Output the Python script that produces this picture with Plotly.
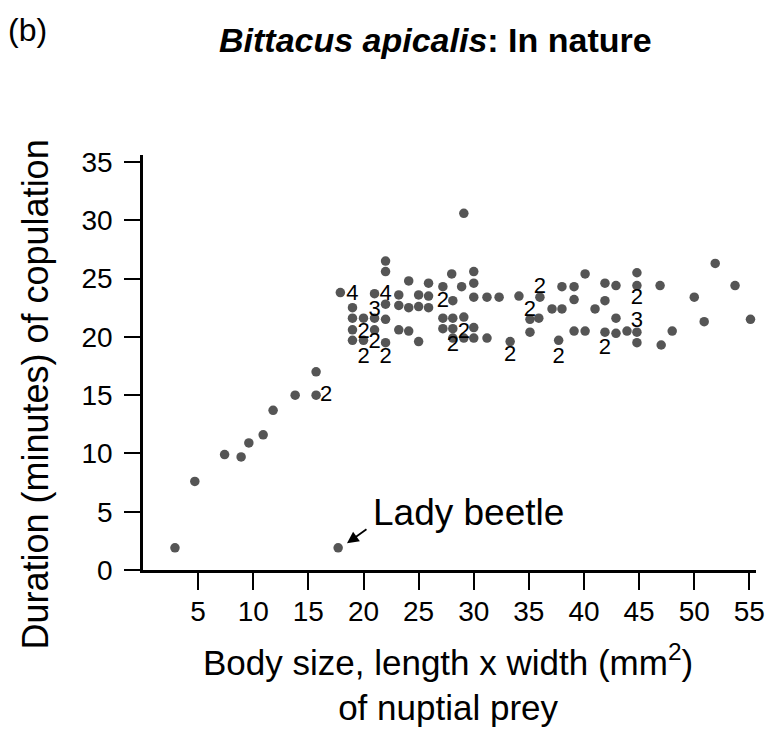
import plotly.graph_objects as go

# single observations (body size mm^2, copulation minutes)
size_mm2 = [2.9, 4.7, 7.4, 8.9, 9.6, 10.9, 11.8, 13.8, 15.7, 15.7, 17.7,
            17.9, 19.0, 19.0, 19.0, 19.0, 20.0, 20.0, 21.0, 21.0, 21.0,
            22.0, 22.0, 22.0, 22.0, 22.0, 23.2, 23.2, 23.2, 24.1, 24.1, 24.1,
            25.0, 25.0, 25.0, 25.9, 25.9, 25.9, 27.2, 27.2, 27.2,
            28.0, 28.1, 28.1, 28.1, 28.1, 29.1, 28.9, 29.1, 29.1,
            30.0, 30.0, 30.0, 30.0, 30.0, 31.2, 31.2, 32.3, 33.3, 34.1,
            35.1, 35.1, 36.0, 35.9, 37.1, 37.7, 38.0, 38.0,
            39.1, 39.1, 39.1, 40.1, 40.1, 41.0, 41.9, 41.9, 41.9,
            42.9, 42.9, 42.9, 43.9, 44.8, 44.8, 44.8, 44.8,
            46.9, 47.0, 48.0, 50.0, 50.9, 51.9, 53.7, 55.1]
duration_min = [1.9, 7.6, 9.9, 9.7, 10.9, 11.6, 13.7, 15.0, 17.0, 15.0, 1.9,
                23.8, 22.5, 21.6, 20.6, 19.7, 21.6, 19.7, 23.7, 21.6, 20.6,
                26.5, 25.6, 22.8, 21.5, 19.5, 23.6, 22.7, 20.6, 24.8, 22.5, 20.5,
                23.6, 22.6, 19.6, 24.6, 23.5, 22.5, 24.3, 21.6, 20.7,
                25.4, 23.1, 21.6, 20.7, 19.9, 30.6, 24.3, 21.7, 19.9,
                25.6, 24.6, 23.4, 20.8, 19.9, 23.4, 19.9, 23.4, 19.6, 23.5,
                21.5, 20.4, 23.4, 21.6, 22.4, 19.7, 24.3, 22.4,
                24.3, 23.2, 20.5, 25.4, 20.5, 22.4, 24.6, 23.1, 20.4,
                24.4, 21.6, 20.3, 20.5, 25.5, 24.4, 20.4, 19.5,
                24.4, 19.3, 20.5, 23.4, 21.3, 26.3, 24.4, 21.5]

# points with several observations, drawn as numbers
count_x = [19.0, 22.0, 21.0, 20.0, 21.0, 20.0, 22.0, 27.2, 29.1, 28.1,
           36.0, 35.1, 33.3, 37.7, 44.8, 44.8, 41.9, 16.6]
count_y = [23.6, 23.6, 22.3, 20.4, 19.5, 18.2, 18.2, 23.0, 20.4, 19.3,
           24.2, 22.3, 18.4, 18.2, 23.3, 21.3, 19.0, 15.0]
count_txt = ["4", "4", "3", "2", "2", "2", "2", "2", "2", "2",
             "2", "2", "2", "2", "2", "3", "2", "2"]

x_ticks = [5, 10, 15, 20, 25, 30, 35, 40, 45, 50, 55]
y_ticks = [0, 5, 10, 15, 20, 25, 30, 35]

FONT = "Liberation Sans, Arial, sans-serif"
W, H = 776, 730
ML, MR, MT, MB = 143, 11, 155, 160


def px(x, y):
    # pixel position on the page -> paper coords
    return (x - ML) / (W - ML - MR), 1 + (MT - y) / (H - MT - MB)


fig = go.Figure()
fig.add_trace(go.Scatter(x=size_mm2, y=duration_min, mode="markers",
                         marker=dict(size=9.5, color="#555555"),
                         showlegend=False, cliponaxis=False))
fig.add_trace(go.Scatter(x=count_x, y=count_y, mode="text", text=count_txt,
                         textfont=dict(size=22, color="black", family=FONT),
                         showlegend=False, cliponaxis=False))

# lady beetle arrow + label
fig.add_annotation(x=18.5, y=2.3, xref="x", yref="y", text="",
                   showarrow=True, arrowhead=2, arrowsize=1.3, arrowwidth=1.8,
                   arrowcolor="black", ax=21, ay=-15)
fig.add_annotation(x=20.7, y=4.9, xref="x", yref="y", text="Lady beetle",
                   xanchor="left", yanchor="middle", showarrow=False,
                   font=dict(size=37, color="black", family=FONT))

bx, by = px(4, 30)
fig.add_annotation(x=bx, y=by, xref="paper", yref="paper", xanchor="left",
                   yanchor="middle", text="(b)", showarrow=False,
                   font=dict(size=32, color="black", family=FONT))
tx, ty = px(440, 40)
fig.add_annotation(x=tx, y=ty, xref="paper", yref="paper", xanchor="center",
                   yanchor="middle", text="<b><i>Bittacus apicalis</i>: In nature</b>",
                   showarrow=False, font=dict(size=34, color="black", family=FONT))
yx, yy = px(33, 395)
fig.add_annotation(x=yx, y=yy, xref="paper", yref="paper", xanchor="center",
                   yanchor="middle", textangle=-90,
                   text="Duration (minutes) of copulation", showarrow=False,
                   font=dict(size=36, color="black", family=FONT))
xx, xy = px(452, 682)
fig.add_annotation(x=xx, y=xy, xref="paper", yref="paper", xanchor="center",
                   yanchor="middle",
                   text="Body size, length x width (mm<sup>2</sup>)<br>of nuptial prey",
                   showarrow=False, font=dict(size=35, color="black", family=FONT))

fig.update_layout(
    width=W, height=H,
    margin=dict(l=ML, r=MR, t=MT, b=MB),
    plot_bgcolor="white", paper_bgcolor="white",
    font=dict(family=FONT, color="black"),
    xaxis=dict(range=[0, 55.6], tickvals=x_ticks, ticks="outside", ticklen=17,
               tickwidth=2, tickcolor="black", showline=True, linecolor="black",
               linewidth=2.5, showgrid=False, zeroline=False,
               tickfont=dict(size=28), ticklabelstandoff=-2),
    yaxis=dict(range=[0, 35.6], tickvals=y_ticks, ticks="outside", ticklen=16,
               tickwidth=2, tickcolor="black", showline=True, linecolor="black",
               linewidth=2.5, showgrid=False, zeroline=False,
               tickfont=dict(size=28), ticklabelstandoff=6),
)

# drop the browser's default 8px body margin so the figure sits at 0,0
fig.write_html("out.html", config={"displayModeBar": False},
               post_script="document.body.style.margin='0';")
